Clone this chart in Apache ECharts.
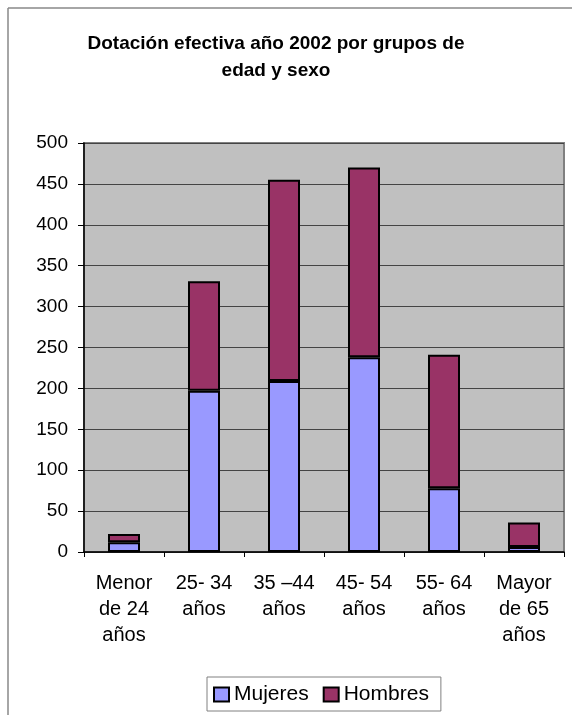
<!DOCTYPE html>
<html>
<head>
<meta charset="utf-8">
<script src="https://cdn.jsdelivr.net/npm/echarts@6/dist/echarts.min.js"></script>
<style>
html,body{margin:0;padding:0;background:#fff;}
#chart{width:572px;height:715px;}
</style>
</head>
<body>
<div id="chart"></div>
<script>
const titleText = 'Dotación efectiva año 2002 por grupos de\nedad y sexo';
const categories = ['Menor\nde 24\naños', '25- 34\naños', '35 –44\naños', '45- 54\naños', '55- 64\naños', 'Mayor\nde 65\naños'];
const mujeres = [12, 197, 209, 238, 78, 6];
const hombres = [10, 134, 246, 232, 163, 30];
const yMin = 0, yMax = 500, yStep = 50;

const chart = echarts.init(document.getElementById('chart'), null, {renderer: 'canvas'});
const FONT = '"Liberation Sans", Arial, sans-serif';
chart.setOption({
  animation: false,
  backgroundColor: '#fff',
  textStyle: {fontFamily: FONT, color: '#000'},
  graphic: [
    {type: 'line', shape: {x1: 8, y1: 8, x2: 572, y2: 8}, style: {stroke: '#888', lineWidth: 1.5}},
    {type: 'line', shape: {x1: 8, y1: 8, x2: 8, y2: 715}, style: {stroke: '#888', lineWidth: 1.5}}
  ],
  title: {
    text: titleText,
    left: 271,
    top: 25,
    textAlign: 'center',
    textStyle: {fontFamily: FONT, fontSize: 19, fontWeight: 'bold', color: '#000', lineHeight: 27}
  },
  legend: {
    left: 207,
    top: 677,
    orient: 'horizontal',
    icon: 'rect',
    itemWidth: 15,
    itemHeight: 14,
    itemGap: 14,
    padding: [7, 12, 6, 6],
    borderColor: '#808080',
    borderWidth: 1,
    textStyle: {fontFamily: FONT, fontSize: 21, color: '#000'},
    itemStyle: {borderColor: '#000', borderWidth: 2},
    data: ['Mujeres', 'Hombres']
  },
  grid: {
    left: 84, right: 8, top: 143, bottom: 163,
    show: true,
    backgroundColor: '#C0C0C0',
    borderColor: '#808080',
    borderWidth: 2
  },
  xAxis: {
    type: 'category',
    data: categories,
    axisLine: {show: true, lineStyle: {color: '#000', width: 1.5}},
    axisTick: {show: true, length: 5, lineStyle: {color: '#000'}, interval: 0},
    axisLabel: {interval: 0, fontFamily: FONT, fontSize: 20, lineHeight: 26, color: '#000', margin: 18},
    splitLine: {show: false}
  },
  yAxis: {
    type: 'value',
    min: yMin, max: yMax, interval: yStep,
    axisLine: {show: true, lineStyle: {color: '#000', width: 1.5}},
    axisTick: {show: true, length: 6, lineStyle: {color: '#000'}},
    axisLabel: {fontFamily: FONT, fontSize: 19, color: '#000', margin: 16},
    splitLine: {show: true, lineStyle: {color: '#444', width: 1}}
  },
  series: [
    {
      name: 'Mujeres', type: 'bar', stack: 'total', data: mujeres, barWidth: 32,
      itemStyle: {color: '#9999FF', borderColor: '#000', borderWidth: 2}
    },
    {
      name: 'Hombres', type: 'bar', stack: 'total', data: hombres, barWidth: 32,
      itemStyle: {color: '#993366', borderColor: '#000', borderWidth: 2}
    }
  ]
});
</script>
</body>
</html>
